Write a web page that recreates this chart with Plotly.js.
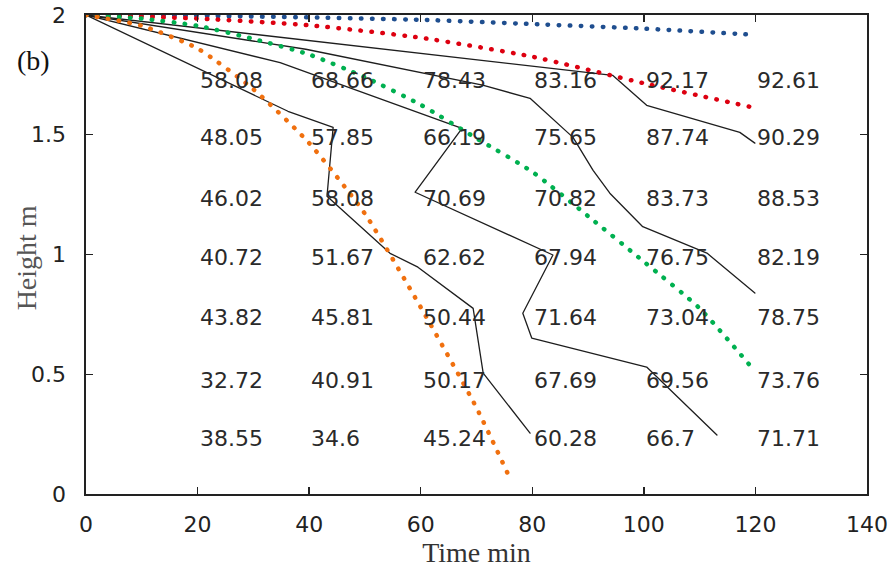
<!DOCTYPE html>
<html>
<head>
<meta charset="utf-8">
<script src="https://cdn.plot.ly/plotly-3.0.1.min.js"></script>
<style>
html,body{margin:0;padding:0;background:#fff;}
#chart{width:890px;height:573px;}
#chart .scatterlayer path.js-line{stroke-linecap:round;stroke-linejoin:round;}
</style>
</head>
<body>
<div id="chart"></div>
<script>
// Dotted curves (Time min, Height m)
const blueX = [0, 20, 40, 60, 80, 100, 120];
const blueY = [2, 1.997, 1.99, 1.98, 1.962, 1.943, 1.917];
const redX = [0, 20, 40, 60, 80, 100, 119];
const redY = [2, 1.985, 1.957, 1.905, 1.826, 1.715, 1.617];
const greenX = [0, 10, 20, 30, 40, 50, 60, 70, 80, 90, 100, 110, 120];
const greenY = [2, 1.985, 1.955, 1.90, 1.835, 1.74, 1.625, 1.485, 1.345, 1.16, 0.97, 0.775, 0.51];
const orangeX = [0, 10, 20, 30, 40, 50, 60, 70, 76.3];
const orangeY = [2, 1.955, 1.86, 1.69, 1.465, 1.17, 0.78, 0.36, 0.05];

// Solid black polylines
const lineAX = [0, 94.4, 100.5, 117.2, 119.9];
const lineAY = [2, 1.748, 1.623, 1.510, 1.465];
const lineBX = [0, 39.4, 71.1, 79.6, 87.3, 90.9, 93.9, 99.8, 111.3, 119.9];
const lineBY = [2, 1.857, 1.707, 1.652, 1.489, 1.351, 1.256, 1.116, 1.006, 0.839];
const lineCX = [0, 34.8, 67.4, 59.0, 83.7, 78.3, 79.9, 100.5, 113.1];
const lineCY = [2, 1.801, 1.527, 1.260, 0.998, 0.755, 0.651, 0.530, 0.246];
const lineDX = [0, 36.2, 44.3, 43.2, 54.5, 59.5, 69.4, 69.9, 71.2, 79.6];
const lineDY = [2, 1.598, 1.531, 1.243, 1.005, 0.947, 0.775, 0.698, 0.505, 0.254];

// Value labels grid
const labelCols = [20, 40, 60, 80, 100, 120];
const labelRows = [1.728, 1.488, 1.235, 0.987, 0.735, 0.476, 0.23];
const col20 = ["58.08", "48.05", "46.02", "40.72", "43.82", "32.72", "38.55"];
const col40 = ["68.66", "57.85", "58.08", "51.67", "45.81", "40.91", "34.6"];
const col60 = ["78.43", "66.19", "70.69", "62.62", "50.44", "50.17", "45.24"];
const col80 = ["83.16", "75.65", "70.82", "67.94", "71.64", "67.69", "60.28"];
const col100 = ["92.17", "87.74", "83.73", "76.75", "73.04", "69.56", "66.7"];
const col120 = ["92.61", "90.29", "88.53", "82.19", "78.75", "73.76", "71.71"];

const xTicks = [0, 20, 40, 60, 80, 100, 120, 140];
const yTicks = [0, 0.5, 1, 1.5, 2];

const dotted = (x, y, color) => ({
  x: x, y: y, type: 'scatter', mode: 'lines', hoverinfo: 'skip',
  line: {color: color, width: 4.5, dash: '0.5px,10.5px', shape: 'spline', smoothing: 0.6}
});
const solid = (x, y) => ({
  x: x, y: y, type: 'scatter', mode: 'lines', hoverinfo: 'skip',
  line: {color: '#1e1e1e', width: 1.3}
});

const traces = [
  solid(lineAX, lineAY), solid(lineBX, lineBY), solid(lineCX, lineCY), solid(lineDX, lineDY),
  dotted(blueX, blueY, '#1F4E8F'),
  dotted(redX, redY, '#DD0010'),
  dotted(greenX, greenY, '#00B050'),
  dotted(orangeX, orangeY, '#F0700F')
];

const cols = [col20, col40, col60, col80, col100, col120];
const annotations = [];
cols.forEach((col, ci) => {
  col.forEach((txt, ri) => {
    annotations.push({
      x: labelCols[ci], y: labelRows[ri], xref: 'x', yref: 'y',
      text: txt, showarrow: false, xanchor: 'left', yanchor: 'middle',
      font: {family: 'DejaVu Sans', size: 22, color: '#2a2a2a'}
    });
  });
});
annotations.push({
  x: -0.091, y: 0.905, xref: 'paper', yref: 'paper', text: '(b)', showarrow: false,
  xanchor: 'left', yanchor: 'middle',
  font: {family: 'Liberation Serif', size: 28, color: '#111'}
});
annotations.push({
  x: -0.0768, y: 0.492, xref: 'paper', yref: 'paper', text: 'Height m', showarrow: false,
  xanchor: 'center', yanchor: 'middle', textangle: -90,
  font: {family: 'Liberation Serif', size: 28, color: '#555'}
});

const axisCommon = {
  showgrid: false, zeroline: false, showline: true, linecolor: '#222', linewidth: 1.6,
  mirror: 'ticks', ticks: 'inside', ticklen: 7, tickwidth: 1.4, tickcolor: '#222',
  tickfont: {family: 'DejaVu Sans', size: 22, color: '#222'}
};

const layout = {
  width: 890, height: 573,
  margin: {l: 86, r: 23, t: 15, b: 79},
  paper_bgcolor: '#fff', plot_bgcolor: '#fff',
  showlegend: false,
  xaxis: Object.assign({}, axisCommon, {
    range: [0, 140], tickvals: xTicks, ticktext: xTicks.map(String),
    ticklabelstandoff: 10,
    title: {text: 'Time min', standoff: 4, font: {family: 'Liberation Serif', size: 28, color: '#333'}}
  }),
  yaxis: Object.assign({}, axisCommon, {
    range: [0, 2], tickvals: yTicks, ticktext: yTicks.map(String),
    ticklabelstandoff: 14
  }),
  annotations: annotations
};

Plotly.newPlot('chart', traces, layout, {staticPlot: true, displayModeBar: false});
</script>
</body>
</html>
